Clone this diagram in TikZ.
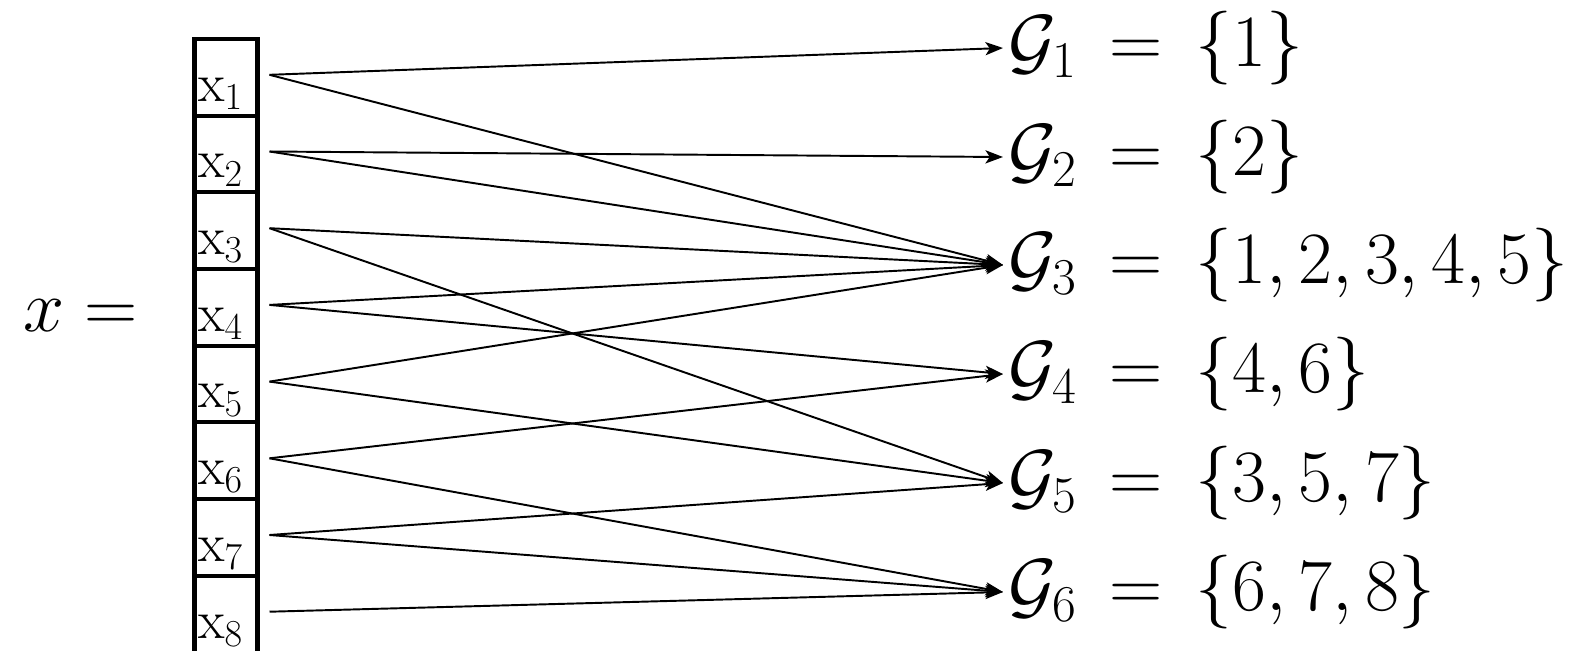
\documentclass[tikz,border=0pt]{standalone}
\usepackage{fix-cm}
\usetikzlibrary{arrows.meta}

\tikzset{
    cell/.style={draw, line width=2.3pt, minimum width=1.26cm, minimum height=1.534cm, inner sep=0pt},
    conn/.style={line width=1.1pt, -{Stealth[length=10pt,width=7.5pt,inset=2.5pt]}},
    bigtext/.style={font=\fontsize{42}{50}\selectfont, inner sep=0pt, inner xsep=3pt},
    celltext/.style={font=\fontsize{31}{37}\selectfont, inner sep=0pt}
}

\begin{document}
\begin{tikzpicture}[x=0.02cm, y=-0.02cm]
\useasboundingbox (0,0) rectangle (1570,650);

% the vector
\node[bigtext, anchor=west, inner xsep=0pt] (xeq) at (23,316) {$x =$};

% cells of x
\foreach \i in {1,...,8}{
    \pgfmathsetmacro{\cy}{77.3 + 76.7*(\i-1)}
    \node[cell] (b\i) at (226,\cy) {};
    \node[celltext, anchor=base west] (l\i) at ([xshift=0.11cm, yshift=0.33cm]b\i.south west) {$\mathrm{x}_{\i}$};
    \coordinate (s\i) at ([xshift=0.2cm, yshift=0.05cm]b\i.east);
}

% groups
\node[bigtext, anchor=west] (g1) at (1003,48)  {$\mathcal{G}_1\,=\,\{1\}$};
\node[bigtext, anchor=west] (g2) at (1003,157) {$\mathcal{G}_2\,=\,\{2\}$};
\node[bigtext, anchor=west] (g3) at (1003,265) {$\mathcal{G}_3\,=\,\{1, 2, 3, 4, 5\}$};
\node[bigtext, anchor=west] (g4) at (1003,374) {$\mathcal{G}_4\,=\,\{4, 6\}$};
\node[bigtext, anchor=west] (g5) at (1003,483) {$\mathcal{G}_5\,=\,\{3, 5, 7\}$};
\node[bigtext, anchor=west] (g6) at (1003,592) {$\mathcal{G}_6\,=\,\{6, 7, 8\}$};

% memberships
\foreach \s/\g in {1/1, 1/3, 2/2, 2/3, 3/3, 3/5, 4/3, 4/4, 5/3, 5/5, 6/4, 6/6, 7/5, 7/6, 8/6}
    \draw[conn] (s\s) -- (g\g.west);

\end{tikzpicture}
\end{document}
